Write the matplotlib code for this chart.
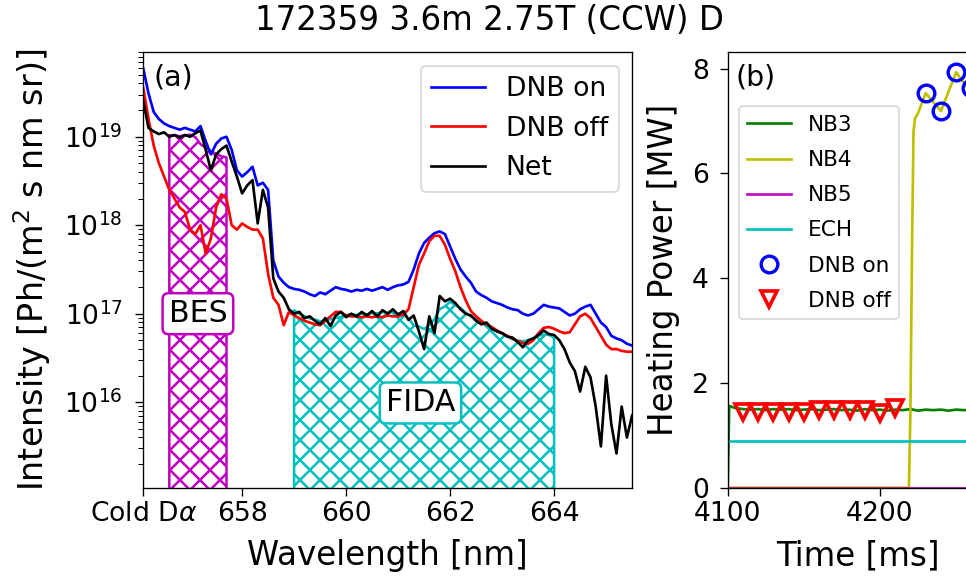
import numpy as np
import matplotlib
matplotlib.use('Agg')
import matplotlib.pyplot as plt

# spectrum, log10 of intensity in Ph/(m^2 s nm sr)
wavelength = np.linspace(656.1, 665.5, 95)

dnb_on_log = [
    19.77, 19.49, 19.28, 19.20, 19.15, 19.12, 19.10, 19.08, 19.10, 19.08,
    19.06, 19.12, 18.95, 18.80, 18.92, 18.98, 19.00, 18.85, 18.62, 18.55,
    18.60, 18.66, 18.45, 18.48, 18.40, 17.60, 17.42, 17.35, 17.30, 17.28,
    17.27, 17.25, 17.22, 17.20, 17.24, 17.22, 17.26, 17.30, 17.28, 17.27,
    17.25, 17.27, 17.26, 17.28, 17.26, 17.28, 17.30, 17.27, 17.30, 17.32,
    17.33, 17.36, 17.50, 17.68, 17.80, 17.86, 17.91, 17.93, 17.90, 17.76,
    17.62, 17.50, 17.42, 17.35, 17.25, 17.21, 17.18, 17.14, 17.12, 17.10,
    17.07, 17.05, 17.04, 17.00, 16.98, 17.00, 17.05, 17.10, 17.08, 17.07,
    17.06, 17.02, 16.98, 17.00, 17.05, 17.08, 17.10, 17.00, 16.90, 16.85,
    16.75, 16.72, 16.70, 16.66, 16.64]

dnb_off_log = [
    19.55, 19.20, 18.90, 18.70, 18.55, 18.40, 18.30, 18.20, 18.15, 17.95,
    17.90, 18.00, 17.68, 17.85, 18.20, 18.35, 18.30, 18.00, 17.95, 18.02,
    17.98, 17.95, 17.95, 17.85, 17.45, 17.18, 17.10, 16.87, 17.02, 16.98,
    16.95, 16.92, 16.90, 16.88, 16.87, 16.92, 16.97, 17.02, 17.02, 16.98,
    16.97, 16.97, 16.96, 16.97, 16.96, 16.97, 16.96, 16.98, 16.97, 16.97,
    16.99, 17.05, 17.30, 17.55, 17.68, 17.82, 17.88, 17.88, 17.78, 17.62,
    17.48, 17.30, 17.15, 17.03, 16.97, 16.92, 16.88, 16.85, 16.81, 16.78,
    16.75, 16.72, 16.69, 16.67, 16.66, 16.70, 16.78, 16.84, 16.85, 16.83,
    16.80, 16.78, 16.79, 16.88, 16.97, 17.00, 16.95, 16.85, 16.75, 16.65,
    16.60, 16.60, 16.58, 16.57, 16.57]

net_log = [
    19.40, 19.10, 19.06, 19.03, 19.05, 19.00, 19.02, 18.99, 19.02, 19.00,
    19.04, 19.07, 18.85, 18.62, 18.80, 18.86, 18.90, 18.72, 18.55, 18.36,
    18.45, 18.51, 18.02, 18.40, 18.20, 17.40, 17.25, 17.18, 17.05, 17.00,
    17.02, 16.95, 16.97, 16.92, 16.88, 16.95, 16.86, 16.98, 17.02, 16.96,
    17.00, 16.97, 17.02, 16.98, 17.03, 16.97, 17.04, 17.00, 17.05, 16.99,
    17.03, 16.93, 16.98, 16.80, 16.60, 16.97, 16.78, 17.20, 17.14, 17.17,
    17.12, 17.05, 17.00, 16.98, 16.92, 16.88, 16.90, 16.83, 16.80, 16.78,
    16.74, 16.73, 16.68, 16.62, 16.70, 16.72, 16.76, 16.81, 16.77, 16.76,
    16.70, 16.60, 16.45, 16.35, 16.12, 16.40, 16.28, 15.95, 15.50, 16.30,
    15.75, 15.42, 15.95, 15.60, 15.85]

bes_range = (656.6, 657.7)
fida_range = (659.0, 664.0)
cold_dalpha = 656.1

# heating power traces [MW]
nb3_time = [4099, 4100, 4101, 4105, 4110, 4115, 4120, 4125, 4130, 4135,
            4140, 4145, 4150, 4155, 4160, 4165, 4170, 4175, 4180, 4185,
            4190, 4195, 4200, 4205, 4210, 4215, 4220, 4225, 4230, 4235,
            4240, 4245, 4250, 4255, 4260, 4265, 4270]
nb3_power = [0.0, 0.0, 1.56, 1.52, 1.50, 1.49, 1.50, 1.48, 1.50, 1.49,
             1.50, 1.48, 1.49, 1.50, 1.48, 1.49, 1.50, 1.48, 1.49, 1.47,
             1.50, 1.48, 1.49, 1.47, 1.49, 1.48, 1.50, 1.47, 1.49, 1.48,
             1.49, 1.47, 1.49, 1.48, 1.49, 1.48, 1.49]
nb4_time = [4099, 4219, 4220, 4221, 4222, 4223, 4225, 4230, 4240, 4250,
            4257, 4270]
nb4_power = [0.0, 0.0, 1.5, 4.5, 6.8, 7.05, 7.15, 7.53, 7.19, 7.93,
             7.65, 7.6]
nb5_time = [4099, 4270]
nb5_power = [0.0, 0.0]
ech_time = [4100, 4270]
ech_power = [0.89, 0.89]

dnb_on_time = [4230, 4240, 4250, 4260]
dnb_on_power = [7.53, 7.19, 7.93, 7.62]
dnb_off_time = [4110, 4120, 4130, 4140, 4150, 4160, 4170, 4180, 4190,
                4200, 4210]
dnb_off_power = [1.44, 1.44, 1.44, 1.44, 1.44, 1.48, 1.48, 1.48, 1.48,
                 1.43, 1.52]

plt.rcParams['hatch.linewidth'] = 1.5
plt.rcParams['xtick.major.size'] = 4.7
plt.rcParams['ytick.major.size'] = 4.7
plt.rcParams['ytick.minor.size'] = 2.8

W, H = 966, 579
fig = plt.figure(figsize=(W / 120, H / 120), dpi=120)
bottom = (H - 487.7) / H
height = (487.7 - 52.3) / H
ax1 = fig.add_axes([143.3 / W, bottom, (632.1 - 143.3) / W, height])
ax2 = fig.add_axes([727.7 / W, bottom, 260 / W, height])

dnb_on = 10.0 ** np.array(dnb_on_log)
dnb_off = 10.0 ** np.array(dnb_off_log)
net = 10.0 ** np.array(net_log)
net_smooth = 10.0 ** np.convolve(net_log, np.ones(5) / 5, mode='same')

# shaded spectral windows
for (lo, hi), color in [(bes_range, 'm'), (fida_range, 'c')]:
    sel = (wavelength >= lo - 1e-6) & (wavelength <= hi + 1e-6)
    ax1.fill_between(wavelength[sel], 1e10, net_smooth[sel],
                     facecolor='none', edgecolor=color, hatch='xx',
                     linewidth=1.5, zorder=1)

ax1.plot(wavelength, dnb_on, color='b', lw=1.6, label='DNB on', zorder=2)
ax1.plot(wavelength, dnb_off, color='r', lw=1.6, label='DNB off', zorder=2)
ax1.plot(wavelength, net, color='k', lw=1.6, label='Net', zorder=3)

ax1.set_yscale('log')
ax1.set_xlim(cold_dalpha, 665.5)
ax1.set_ylim(1.08e15, 9.0e19)
ax1.set_xticks([cold_dalpha, 658, 660, 662, 664],
               ['Cold D$\\alpha$', '658', '660', '662', '664'])
ax1.tick_params(labelsize=16)
ax1.tick_params(axis='y', which='major', pad=7.5)
ax1.set_xlabel('Wavelength [nm]', fontsize=19.5, labelpad=7)
ax1.set_ylabel('Intensity [Ph/(m$^2$ s nm sr)]', fontsize=20, labelpad=7)
ax1.legend(loc='upper right', fontsize=16)
ax1.text(0.02, 0.975, '(a)', transform=ax1.transAxes, fontsize=17,
         ha='left', va='top')

ax1.text(657.15, 1.0e17, 'BES', fontsize=18, ha='center', va='center',
         zorder=4, bbox=dict(boxstyle='round,pad=0.2', fc='white', ec='m',
                             lw=1.5))
ax1.text(661.43, 9.8e15, 'FIDA', fontsize=18, ha='center', va='center',
         zorder=4, bbox=dict(boxstyle='round,pad=0.2', fc='white', ec='c',
                             lw=1.5))

ax2.plot(nb3_time, nb3_power, color='g', lw=1.6, label='NB3')
ax2.plot(nb4_time, nb4_power, color='y', lw=1.6, label='NB4')
ax2.plot(nb5_time, nb5_power, color='m', lw=1.6, label='NB5')
ax2.plot(ech_time, ech_power, color='c', lw=1.6, label='ECH')
ax2.plot(dnb_on_time, dnb_on_power, 'o', color='b', mfc='none', ms=10,
         mew=2, label='DNB on')
ax2.plot(dnb_off_time, dnb_off_power, 'v', color='r', mfc='none', ms=10,
         mew=2.2, label='DNB off')

ax2.set_xlim(4100, 4100 + 260 / 1.523)
ax2.set_ylim(0, 8.31)
ax2.set_xticks([4100, 4200])
ax2.set_yticks([0, 2, 4, 6, 8])
ax2.tick_params(labelsize=16)
ax2.tick_params(axis='y', pad=6.5)
ax2.set_xlabel('Time [ms]', fontsize=19.5, labelpad=7)
ax2.set_ylabel('Heating Power [MW]', fontsize=19.5, labelpad=7)
ax2.legend(loc='upper left', fontsize=13, labelspacing=0.7,
           bbox_to_anchor=(738.6 / W, 1 - 106.3 / H),
           bbox_transform=fig.transFigure, borderaxespad=0)
ax2.text(7.5 / 260, 0.975, '(b)', transform=ax2.transAxes,
         fontsize=17, ha='left', va='top')

fig.text(489 / W, 1 - 20 / H, '172359 3.6m 2.75T (CCW) D', ha='center',
         va='center', fontsize=19.5)

fig.savefig('out.png', dpi=120)
